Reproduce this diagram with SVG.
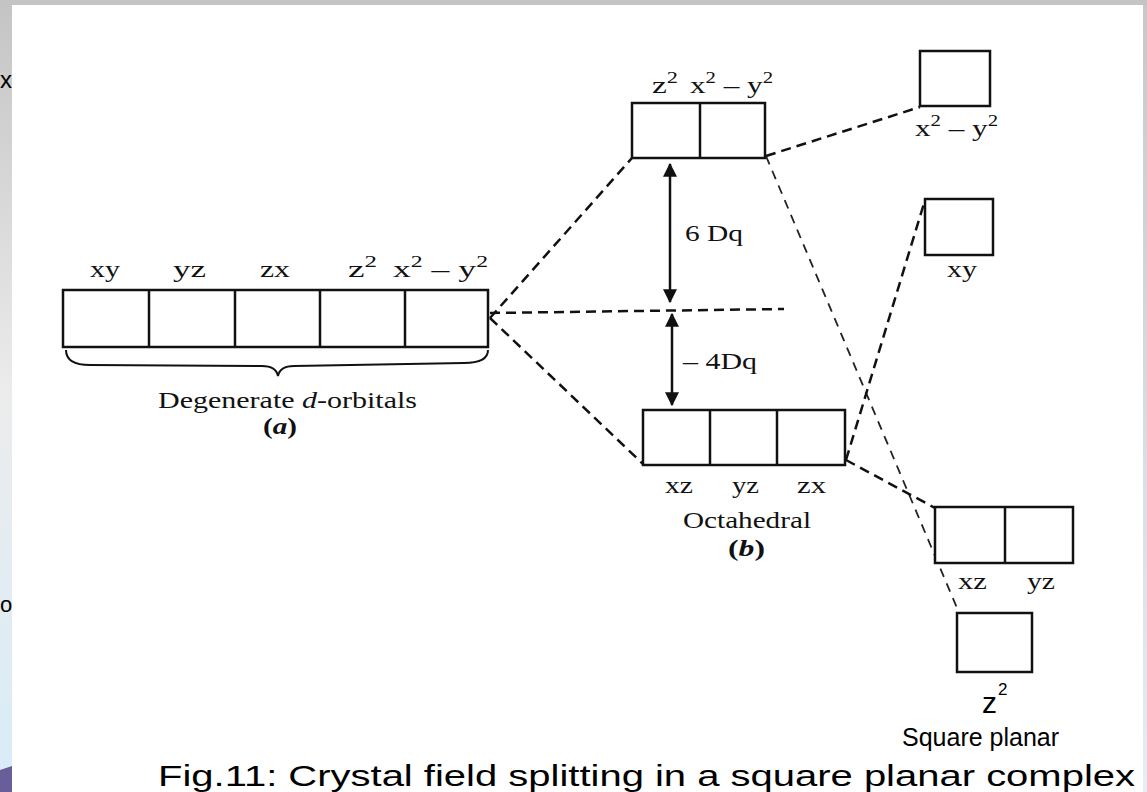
<svg xmlns="http://www.w3.org/2000/svg" width="1147" height="792" viewBox="0 0 1147 792">
<defs>
<linearGradient id="lg" x1="0" y1="0" x2="0" y2="1">
<stop offset="0" stop-color="#c4c4c4"/>
<stop offset="0.5" stop-color="#ececec"/>
<stop offset="1" stop-color="#d8ecf8"/>
</linearGradient>
<linearGradient id="rg" x1="0" y1="0" x2="0" y2="1">
<stop offset="0" stop-color="#c8c8c8"/>
<stop offset="1" stop-color="#e4eef6"/>
</linearGradient>
<marker id="ah2" viewBox="0 0 12 12" refX="11" refY="6" markerWidth="14" markerHeight="14" orient="auto-start-reverse" markerUnits="userSpaceOnUse">
<path d="M0,0 L12,6 L0,12 z" fill="#111"/>
</marker>
</defs>
<style>
.box{fill:#fff;stroke:#111;stroke-width:2.5}
.div{stroke:#111;stroke-width:2.5}
.lbl{font-family:"Liberation Serif","Times New Roman",serif;font-size:24px;fill:#111}
.sup{font-size:16px}
.dash{fill:none;stroke:#111;stroke-width:2.5;stroke-dasharray:10 6}
.dash2{fill:none;stroke:#222;stroke-width:1.8;stroke-dasharray:9 7}
.arr{stroke:#111;stroke-width:2.5;fill:none}
.sans{font-family:"Liberation Sans",Arial,sans-serif;fill:#000}
</style>
<rect x="0" y="0" width="1147" height="792" fill="#fff"/>
<rect x="0" y="0" width="12" height="792" fill="url(#lg)"/>
<rect x="0" y="0" width="1147" height="5" fill="#c4c4c4"/>
<rect x="1143" y="5" width="4" height="787" fill="url(#rg)"/>
<path d="M0,770 L12,766 L12,792 L0,792 z" fill="#6a5e9a"/>
<text class="sans" x="0" y="88" font-size="24">x</text>
<text class="sans" x="0" y="612" font-size="22">o</text>

<g id="connectors">
<line class="dash" x1="490" y1="318" x2="632" y2="158"/>
<line class="dash" x1="490" y1="318" x2="643" y2="464"/>
<line class="dash" x1="490" y1="313" x2="784" y2="309"/>
<line class="dash" x1="766" y1="156" x2="920" y2="107"/>
<line class="dash2" x1="766" y1="156" x2="957" y2="608"/>
<line class="dash" x1="846" y1="460" x2="925" y2="200"/>
<line class="dash" x1="846" y1="460" x2="935" y2="508"/>
<line class="arr" x1="670" y1="302" x2="670" y2="164" marker-start="url(#ah2)" marker-end="url(#ah2)"/>
<line class="arr" x1="672" y1="314" x2="672" y2="405" marker-start="url(#ah2)" marker-end="url(#ah2)"/>
</g>

<g id="degenerate">
<rect class="box" x="63" y="290" width="425" height="57"/>
<line class="div" x1="149" y1="290" x2="149" y2="347"/>
<line class="div" x1="235" y1="290" x2="235" y2="347"/>
<line class="div" x1="320" y1="290" x2="320" y2="347"/>
<line class="div" x1="405" y1="290" x2="405" y2="347"/>
<text class="lbl" x="90" y="277" textLength="30" lengthAdjust="spacingAndGlyphs">xy</text>
<text class="lbl" x="173" y="277" textLength="33" lengthAdjust="spacingAndGlyphs">yz</text>
<text class="lbl" x="260" y="277" textLength="30" lengthAdjust="spacingAndGlyphs">zx</text>
<text class="lbl" x="348" y="277" textLength="29" lengthAdjust="spacingAndGlyphs">z<tspan class="sup" dy="-10">2</tspan></text>
<text class="lbl" x="393" y="277" textLength="95" lengthAdjust="spacingAndGlyphs">x<tspan class="sup" dy="-10">2</tspan><tspan dy="10"> – y</tspan><tspan class="sup" dy="-10">2</tspan></text>
<path d="M66,350 Q66,365 90,365 L262,366 Q276,366 278,376 Q280,366 294,366 L464,363 Q488,363 488,350" fill="none" stroke="#111" stroke-width="2"/>
<text class="lbl" x="158" y="408" textLength="259" lengthAdjust="spacingAndGlyphs">Degenerate <tspan font-style="italic">d</tspan>-orbitals</text>
<text class="lbl" x="263" y="434" font-weight="bold" textLength="34" lengthAdjust="spacingAndGlyphs">(<tspan font-style="italic">a</tspan>)</text>
</g>

<g id="eg">
<rect class="box" x="632" y="103" width="133" height="55"/>
<line class="div" x1="700" y1="103" x2="700" y2="158"/>
<text class="lbl" x="652" y="93" textLength="26" lengthAdjust="spacingAndGlyphs">z<tspan class="sup" dy="-10">2</tspan></text>
<text class="lbl" x="690" y="93" textLength="83" lengthAdjust="spacingAndGlyphs">x<tspan class="sup" dy="-10">2</tspan><tspan dy="10"> – y</tspan><tspan class="sup" dy="-10">2</tspan></text>
<text class="lbl" x="685" y="241" textLength="58" lengthAdjust="spacingAndGlyphs">6 Dq</text>
<text class="lbl" x="683" y="369" textLength="74" lengthAdjust="spacingAndGlyphs">– 4Dq</text>
</g>

<g id="t2g">
<rect class="box" x="643" y="410" width="202" height="55"/>
<line class="div" x1="710" y1="410" x2="710" y2="465"/>
<line class="div" x1="777" y1="410" x2="777" y2="465"/>
<text class="lbl" x="665" y="493" textLength="28" lengthAdjust="spacingAndGlyphs">xz</text>
<text class="lbl" x="732" y="493" textLength="27" lengthAdjust="spacingAndGlyphs">yz</text>
<text class="lbl" x="797" y="493" textLength="29" lengthAdjust="spacingAndGlyphs">zx</text>
<text class="lbl" x="683" y="528" textLength="128" lengthAdjust="spacingAndGlyphs">Octahedral</text>
<text class="lbl" x="728" y="556" font-weight="bold" textLength="37" lengthAdjust="spacingAndGlyphs">(<tspan font-style="italic">b</tspan>)</text>
</g>

<g id="sp-x2y2">
<rect class="box" x="920" y="51" width="70" height="55"/>
<text class="lbl" x="915" y="136" textLength="83" lengthAdjust="spacingAndGlyphs">x<tspan class="sup" dy="-10">2</tspan><tspan dy="10"> – y</tspan><tspan class="sup" dy="-10">2</tspan></text>
</g>

<g id="sp-xy">
<rect class="box" x="925" y="199" width="68" height="56"/>
<text class="lbl" x="947" y="277" textLength="30" lengthAdjust="spacingAndGlyphs">xy</text>
</g>

<g id="sp-xzyz">
<rect class="box" x="935" y="507" width="138" height="56"/>
<line class="div" x1="1005" y1="507" x2="1005" y2="563"/>
<text class="lbl" x="958" y="589" textLength="29" lengthAdjust="spacingAndGlyphs">xz</text>
<text class="lbl" x="1027" y="589" textLength="28" lengthAdjust="spacingAndGlyphs">yz</text>
</g>

<g id="sp-z2">
<rect class="box" x="957" y="613" width="75" height="59"/>
<text class="sans" x="982" y="713" font-size="30">z</text>
<text class="sans" x="998" y="695" font-size="17">2</text>
<text class="sans" x="902" y="746" font-size="25">Square planar</text>
</g>

<text class="sans" x="158" y="786" font-size="30" fill="#1a1a1a" textLength="977" lengthAdjust="spacingAndGlyphs">Fig.11: Crystal field splitting in a square planar complex</text>
</svg>
